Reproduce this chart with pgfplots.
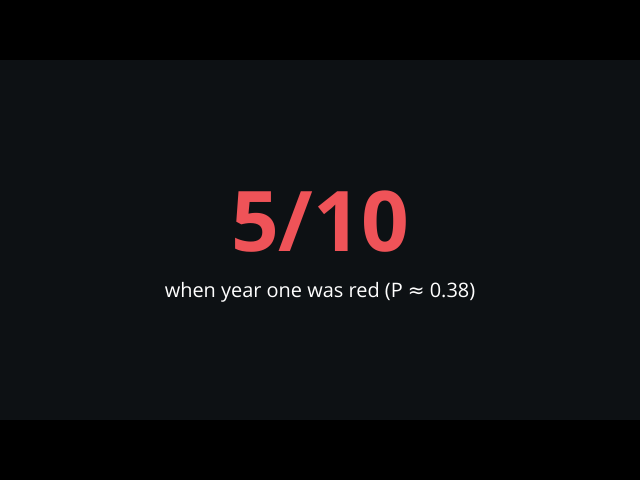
\documentclass[border=0pt]{standalone}
\usepackage{pgfplots}
\pgfplotsset{compat=1.18}
\usepackage{fontspec}
\setmainfont{Open Sans}
\newfontfamily\symfont{DejaVu Sans}
\definecolor{letterbox}{HTML}{000000}
\definecolor{panel}{HTML}{0D1114}
\definecolor{score}{HTML}{EF5358}
\begin{document}
\begin{tikzpicture}
\begin{axis}[
	scale only axis,
	width=640bp,
	height=480bp,
	xmin=0, xmax=640,
	ymin=0, ymax=480,
	hide axis,
	clip=false]

% letterbox and panel
\addplot[draw=none, fill=letterbox] coordinates {(0,0) (640,0) (640,480) (0,480)} -- cycle;
\addplot[draw=none, fill=panel] coordinates {(0,60) (640,60) (640,420) (0,420)} -- cycle;

\node[anchor=base, text=score, font=\fontsize{84}{84}\selectfont\bfseries, inner sep=0pt]
	at (axis cs:320,228) {5/10};
\node[anchor=base, text=white, font=\fontsize{20}{20}\selectfont, inner sep=0pt]
	at (axis cs:320,182) {when year one was red (P {\symfont≈} 0.38)};

\end{axis}
\end{tikzpicture}
\end{document}
